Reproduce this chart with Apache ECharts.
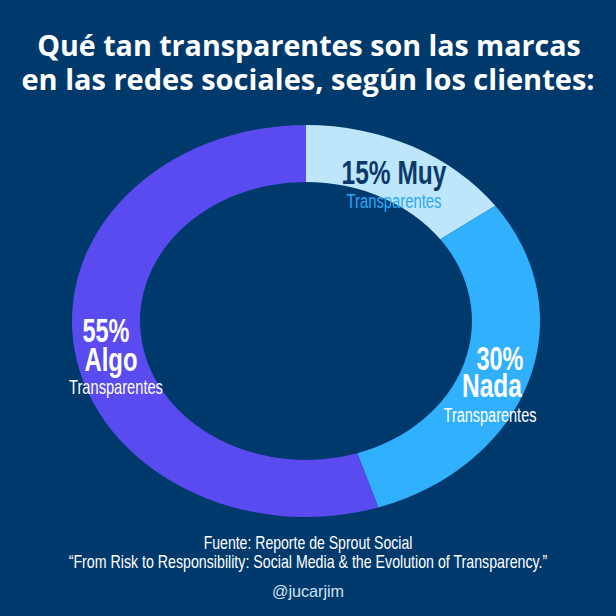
<!DOCTYPE html>
<html><head><meta charset="utf-8">
<script src="https://cdn.jsdelivr.net/npm/echarts@6/dist/echarts.min.js"></script>
<style>
html,body{margin:0;padding:0;background:#003a6d;width:616px;height:616px;overflow:hidden}
#ring{position:absolute;left:106px;top:121px;width:400px;height:400px;transform:scaleX(1.194);transform-origin:50% 50%}
#text{position:absolute;left:0;top:0;width:616px;height:616px}
</style></head><body>
<div id="ring"></div><div id="text"></div>
<script>
const categories = ['Muy', 'Nada', 'Algo'];
const values = [15, 30, 55];
const subLabel = 'Transparentes';
const titleLines = ['Qué tan transparentes son las marcas', 'en las redes sociales, según los clientes:'];
const sourceLines = ['Fuente: Reporte de Sprout Social', '“From Risk to Responsibility: Social Media & the Evolution of Transparency.”'];
const credit = '@jucarjim';
const colors = ['#bee6fb', '#30b0fd', '#5a4bf0'];

const ring = echarts.init(document.getElementById('ring'), null, {renderer: 'svg'});
ring.setOption({
  animation: false,
  series: [{
    type: 'pie', center: ['50%', '50%'], radius: [139, 196],
    startAngle: 90, clockwise: true, silent: true,
    label: {show: false}, labelLine: {show: false},
    data: categories.map((c, i) => ({name: c, value: values[i], itemStyle: {color: colors[i]}}))
  }]
});

const ctx = document.createElement('canvas').getContext('2d');
function fitScale(text, font, w) { ctx.font = font; return w / ctx.measureText(text).width; }

const txt = echarts.init(document.getElementById('text'), null, {renderer: 'svg'});
const BOLD = 'bold 33px "Liberation Sans"';
const REG = '20px "Liberation Sans"';
const TITLE = 'bold 29px "Open Sans"';
const FOOT = '18px "Liberation Sans"';
function t(text, x, y, font, fill, w, extra) {
  return {
    type: 'text', x: x, y: y, scaleX: w ? fitScale(text, font, w) : 1, silent: true,
    style: Object.assign({text: text, font: font, fill: fill, align: 'center', verticalAlign: 'middle'}, extra || {})
  };
}
const shadow = {shadowColor: 'rgba(0,0,0,0.75)', shadowBlur: 3, shadowOffsetX: 2, shadowOffsetY: 2};
const g = [];
g.push(t(titleLines[0], 309, 44, TITLE, '#ffffff', 544, shadow));
g.push(t(titleLines[1], 308, 78, TITLE, '#ffffff', 573, shadow));
// slice labels
g.push(t(values[0] + '% ' + categories[0], 394, 173, BOLD, '#0b3a6a', 105));
g.push(t(subLabel, 394, 201, REG, '#2ba9f6', 95));
g.push(t(values[1] + '%', 500, 358, BOLD, '#ffffff', 47));
g.push(t(categories[1], 492, 386, BOLD, '#ffffff', 60));
g.push(t(subLabel, 490, 415, REG, '#ffffff', 93));
g.push(t(values[2] + '%', 106, 330, BOLD, '#ffffff', 47));
g.push(t(categories[2], 111, 360, BOLD, '#ffffff', 53));
g.push(t(subLabel, 116, 387, REG, '#ffffff', 94));
// footer
const fshadow = {shadowColor: 'rgba(0,0,0,0.6)', shadowBlur: 2, shadowOffsetX: 1, shadowOffsetY: 1};
g.push(t(sourceLines[0], 308, 542, FOOT, '#ffffff', 209, fshadow));
g.push(t(sourceLines[1], 308, 561, FOOT, '#ffffff', 479, fshadow));
g.push(t(credit, 308, 591, '16px "Liberation Sans"', '#d2e1f1', 72));
txt.setOption({animation: false, graphic: {elements: g}});
</script></body></html>
